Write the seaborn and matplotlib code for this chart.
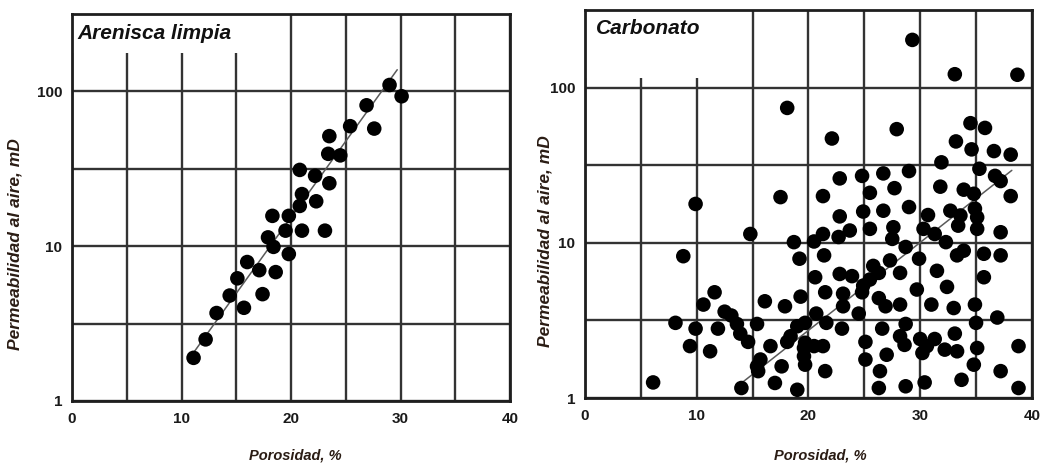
import seaborn as sns
import matplotlib.pyplot as plt
import matplotlib.ticker as mticker
from matplotlib.patches import Rectangle
import pandas as pd
import numpy as np

# -----------------------
# Data
# -----------------------
# Arenisca limpia (clean sandstone)
sand_por = [11.1, 12.2, 13.2, 14.4, 15.7, 15.1, 16.0, 17.1, 17.4, 18.6,
            17.9, 18.4, 18.3, 19.8, 19.5, 19.8, 20.8, 21.0, 21.0, 20.8,
            22.2, 22.3, 23.1, 23.5, 23.4, 23.5, 24.5, 25.4, 26.9, 27.6,
            29.0, 30.1]
sand_perm = [1.9, 2.5, 3.7, 4.8, 4.0, 6.2, 7.9, 7.0, 4.9, 6.8,
             11.4, 9.9, 15.7, 8.9, 12.6, 15.7, 18.2, 21.7, 12.6, 31.1,
             28.5, 19.5, 12.6, 25.5, 39.5, 51.4, 38.6, 59.6, 81.3, 57.5,
             110.0, 93.0]
sand_fit_por = [10.85, 29.7]
sand_fit_perm = [1.94, 138.0]

# Carbonato (carbonate)
carb_por = [29.3, 33.1, 38.7, 18.1, 27.9, 22.1, 34.5, 35.8, 33.2, 34.6,
            36.6, 38.1, 31.9, 35.3, 29.0, 36.7, 37.2, 38.1, 22.8, 24.8,
            26.7, 25.5, 27.7, 31.8, 33.9, 34.8, 21.3, 17.5, 9.9, 29.0,
            26.7, 24.9, 32.7, 33.6, 30.7, 22.8, 27.6, 25.5, 23.7, 30.3,
            33.4, 35.1, 37.2, 27.5, 21.3, 22.7, 20.5, 18.7, 14.8, 31.3,
            32.3, 28.7, 33.3, 33.9, 35.7, 37.2, 8.8, 19.2, 21.4, 29.9,
            27.3, 25.8, 26.3, 28.2, 22.8, 23.9, 20.6, 31.5, 35.7, 25.5,
            24.9, 29.7, 32.4, 24.8, 21.5, 11.6, 16.1, 19.3, 23.1, 23.1,
            26.3, 26.9, 28.2, 31.0, 34.9, 17.9, 10.6, 12.5, 13.1, 33.0,
            24.5, 36.9, 8.1, 9.9, 11.9, 13.6, 15.4, 19.0, 19.7, 20.7,
            21.6, 23.0, 26.6, 28.7, 33.1, 35.0, 13.9, 14.6, 18.4, 25.1,
            28.2, 30.0, 31.3, 32.2, 33.3, 30.6, 28.6, 9.4, 11.2, 16.6,
            18.1, 19.6, 20.5, 21.3, 27.0, 30.2, 35.1, 38.8, 15.7, 19.6,
            25.1, 34.8, 17.6, 15.4, 19.7, 21.5, 26.4, 37.2, 6.1, 14.0,
            17.0, 19.0, 26.3, 28.7, 30.4, 33.7, 38.8, 34.9, 35.1, 15.5,
            19.7]
carb_perm = [203, 122, 121, 74, 54, 47, 59, 55, 45, 40,
             39, 37, 33, 30, 29, 27, 25, 20, 26, 27,
             28, 21, 22.5, 23, 22, 20.7, 20, 19.7, 17.8, 17,
             16.1, 15.9, 16.1, 15, 15.1, 14.8, 12.6, 12.3, 12, 12.3,
             12.9, 12.3, 11.7, 10.6, 11.4, 10.9, 10.2, 10.1, 11.4, 11.4,
             10.1, 9.4, 8.3, 8.9, 8.5, 8.3, 8.2, 7.9, 8.3, 7.9,
             7.7, 7.1, 6.4, 6.4, 6.3, 6.1, 6.0, 6.6, 6.0, 5.8,
             5.3, 5.0, 5.2, 4.8, 4.8, 4.8, 4.2, 4.5, 4.7, 3.9,
             4.4, 3.9, 4.0, 4.0, 4.0, 3.9, 4.0, 3.6, 3.4, 3.8,
             3.5, 3.3, 3.05, 2.8, 2.8, 3.0, 3.0, 2.9, 3.05, 3.5,
             3.05, 2.8, 2.8, 3.0, 2.6, 3.05, 2.6, 2.3, 2.5, 2.3,
             2.5, 2.4, 2.4, 2.05, 2.0, 2.16, 2.2, 2.16, 2.0, 2.16,
             2.3, 2.1, 2.16, 2.16, 1.9, 1.95, 2.1, 2.16, 1.77, 1.86,
             1.77, 1.64, 1.6, 1.6, 1.64, 1.49, 1.49, 1.49, 1.26, 1.16,
             1.25, 1.13, 1.16, 1.19, 1.26, 1.31, 1.16, 16.6, 14.6, 1.49,
             2.27]
carb_fit_por = [14.2, 38.2]
carb_fit_perm = [1.28, 29.3]

x_ticks = [0, 10, 20, 30, 40]
y_ticks = [1, 10, 100]
y_tick_labels = ["1", "10", "100"]

sand_df = pd.DataFrame({"Porosidad": sand_por, "Permeabilidad": sand_perm})
carb_df = pd.DataFrame({"Porosidad": carb_por, "Permeabilidad": carb_perm})

# -----------------------
# Figure
# -----------------------
sns.set_style("white")
plt.rcParams["font.family"] = ["Liberation Sans", "DejaVu Sans"]

fig = plt.figure(figsize=(10.47, 4.66), dpi=100)
ax1 = fig.add_axes([0.0688, 0.1395, 0.4183, 0.8305])
ax2 = fig.add_axes([0.5587, 0.1459, 0.4269, 0.8326])

panels = [
    (ax1, sand_df, sand_fit_por, sand_fit_perm, "Arenisca limpia",
     (0.43, 0.899), (0.012, 0.975), (-0.112, 0.406), (0.509, -0.122)),
    (ax2, carb_df, carb_fit_por, carb_fit_perm, "Carbonato",
     (0.33, 0.825), (0.025, 0.978), (-0.072, 0.405), (0.526, -0.129)),
]

for ax, df, fit_x, fit_y, title, box, tpos, ylab, xlab in panels:
    ax.set_yscale("log")
    ax.set_xlim(0, 40)
    ax.set_ylim(1, 10 ** 2.5)

    ax.set_xticks(x_ticks)
    ax.set_xticks([5, 15, 25, 35], minor=True)
    ax.set_yticks(y_ticks)
    ax.set_yticklabels(y_tick_labels)
    ax.yaxis.set_minor_locator(mticker.FixedLocator([10 ** 0.5, 10 ** 1.5]))
    ax.yaxis.set_minor_formatter(mticker.NullFormatter())
    ax.tick_params(which="both", length=0, labelsize=11, colors="#1a1a1a")
    ax.tick_params(axis="x", pad=8)
    ax.tick_params(axis="y", pad=7)
    for lbl in ax.get_xticklabels() + ax.get_yticklabels():
        lbl.set_fontweight("bold")

    ax.grid(which="both", color="#333333", linewidth=1.7)
    ax.set_axisbelow(True)
    for sp in ax.spines.values():
        sp.set_linewidth(2.0)
        sp.set_color("#1e1e1e")

    # blank area behind the panel title
    ax.add_patch(Rectangle((0, box[1]), box[0], 1 - box[1], transform=ax.transAxes,
                           facecolor="white", edgecolor="none", zorder=1))

    ax.plot(fit_x, fit_y, color="#5a5a5a", linewidth=1.1, zorder=2)
    sns.scatterplot(data=df, x="Porosidad", y="Permeabilidad", ax=ax,
                    color="black", s=110, edgecolor="none", zorder=3)

    ax.text(tpos[0], tpos[1], title, transform=ax.transAxes, ha="left", va="top",
            fontsize=15, fontweight="bold", fontstyle="italic", color="#111111", zorder=4)

    ax.set_xlabel("Porosidad, %", fontsize=10.5, fontweight="bold",
                  fontstyle="italic", color="#2a1c14")
    ax.set_ylabel("Permeabilidad al aire, mD", fontsize=12.5, fontweight="bold",
                  fontstyle="italic", color="#2a1c14")
    ax.xaxis.set_label_coords(*xlab)
    ax.yaxis.set_label_coords(*ylab)

fig.savefig("out.png", dpi=100)
